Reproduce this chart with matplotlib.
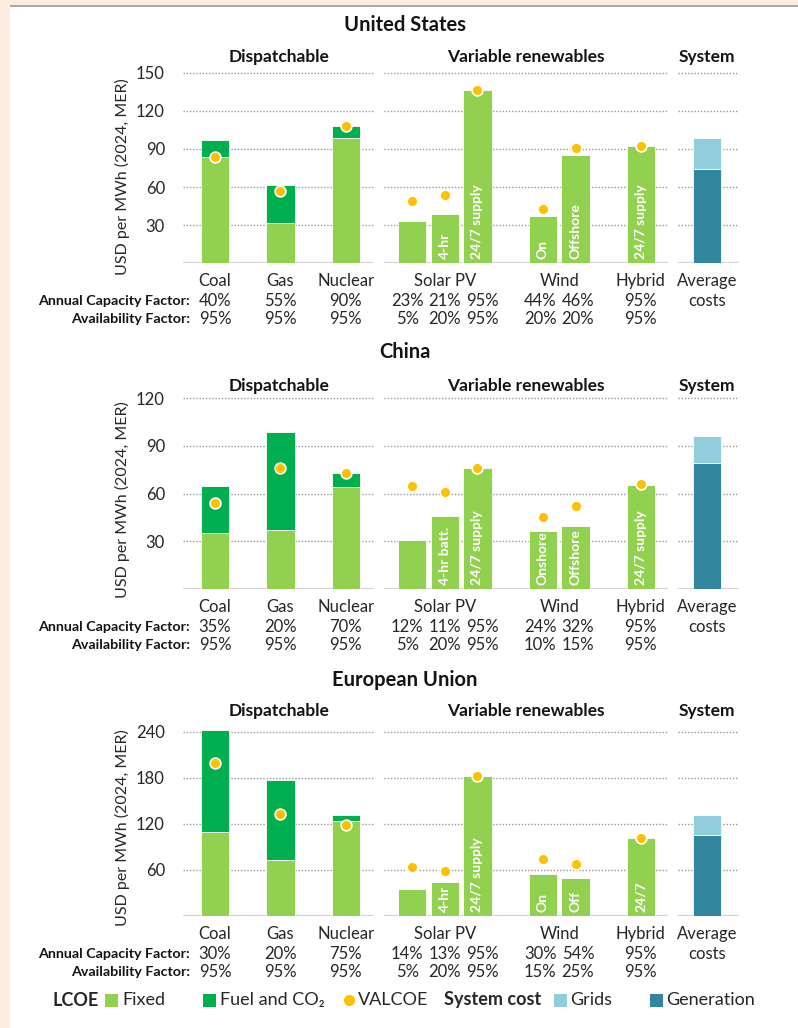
import matplotlib
matplotlib.use("Agg")
import matplotlib.pyplot as plt
import matplotlib.transforms as mtransforms
from matplotlib.patches import Rectangle
from matplotlib.lines import Line2D

plt.rcParams["font.family"] = ["Lato", "DejaVu Sans"]

# ---- data -------------------------------------------------------------
REGIONS = ["United States", "China", "European Union"]
DISP_CATS = ["Coal", "Gas", "Nuclear"]
VRE_GROUPS = ["Solar PV", "Wind", "Hybrid"]

us_disp_fixed = [84, 32, 99]
us_disp_fuel = [13, 30, 9]
us_disp_valcoe = [84, 57, 108]
us_vre = [33, 39, 136, 37.5, 85, 92]
us_vre_valcoe = [49, 54, 136, 43, 91, 92]
us_sys_gen = 74
us_sys_grid = 25
us_vre_labels = ["", "4-hr", "24/7 supply", "On", "Offshore", "24/7 supply"]
us_acf = ["40%", "55%", "90%", "23%", "21%", "95%", "44%", "46%", "95%"]
us_af = ["95%", "95%", "95%", "5%", "20%", "95%", "20%", "20%", "95%"]
us_ticks = [30, 60, 90, 120, 150]

cn_disp_fixed = [35, 37, 64]
cn_disp_fuel = [30, 62, 9]
cn_disp_valcoe = [54, 76, 73]
cn_vre = [31, 46, 76, 36.5, 39.5, 65.5]
cn_vre_valcoe = [65, 61, 76, 45, 52, 66]
cn_sys_gen = 79.5
cn_sys_grid = 16.5
cn_vre_labels = ["", "4-hr batt.", "24/7 supply", "Onshore", "Offshore", "24/7 supply"]
cn_acf = ["35%", "20%", "70%", "12%", "11%", "95%", "24%", "32%", "95%"]
cn_af = ["95%", "95%", "95%", "5%", "20%", "95%", "10%", "15%", "95%"]
cn_ticks = [30, 60, 90, 120]

eu_disp_fixed = [110, 73, 124]
eu_disp_fuel = [133, 104, 8]
eu_disp_valcoe = [199, 133, 119]
eu_vre = [35, 45, 183, 55, 49, 102]
eu_vre_valcoe = [64, 59, 183, 74, 68, 102]
eu_sys_gen = 106
eu_sys_grid = 26
eu_vre_labels = ["", "4-hr", "24/7 supply", "On", "Off", "24/7"]
eu_acf = ["30%", "20%", "75%", "14%", "13%", "95%", "30%", "54%", "95%"]
eu_af = ["95%", "95%", "95%", "5%", "20%", "95%", "15%", "25%", "95%"]
eu_ticks = [60, 120, 180, 240]

# ---- style ------------------------------------------------------------
C_FIXED = "#92D050"
C_FUEL = "#00B050"
C_VALCOE = "#FFC000"
C_GRID = "#92CDDC"
C_GEN = "#31859C"
C_TEXT = "#262626"
C_BOLD = "#141414"
BEIGE = "#FBEDE1"

W, H = 798, 1028
fig = plt.figure(figsize=(W / 100, H / 100), dpi=100)
fig.patch.set_facecolor("white")


def fx(px):
    return px / W


def fy(py):
    return 1 - py / H


# page frame
fig.add_artist(Rectangle((0, 0), fx(10), 1, transform=fig.transFigure,
                         color=BEIGE, lw=0, zorder=-5))
fig.add_artist(Rectangle((0, fy(5)), 1, 5 / H, transform=fig.transFigure,
                         color=BEIGE, lw=0, zorder=-5))
fig.add_artist(Rectangle((fx(10), fy(7)), 1, 2 / H, transform=fig.transFigure,
                         color="#a8a8a8", lw=0, zorder=-4))

# layout per panel: baseline px, top tick px, ylim top, title y, group label y, ylabel y
LAYOUT = [
    (263.3, 72.7, 153, 25, 57, 177),
    (588.7, 398.3, 122, 352, 386, 500),
    (916.0, 732.0, 247, 680, 711, 828),
]
# axes x extents in px and xlims (one unit = one bar slot)
X_DISP = (183, 374, -0.98, 4.86)
X_VRE = (384, 668, -0.86, 7.83)
X_SYS = (678, 739, -0.89, 0.98)
POS_DISP = [0, 2, 4]
POS_VRE = [0, 1, 2, 4, 5, 7]
BW = 0.86

panels = [
    (us_disp_fixed, us_disp_fuel, us_disp_valcoe, us_vre, us_vre_valcoe,
     us_sys_gen, us_sys_grid, us_vre_labels, us_acf, us_af, us_ticks),
    (cn_disp_fixed, cn_disp_fuel, cn_disp_valcoe, cn_vre, cn_vre_valcoe,
     cn_sys_gen, cn_sys_grid, cn_vre_labels, cn_acf, cn_af, cn_ticks),
    (eu_disp_fixed, eu_disp_fuel, eu_disp_valcoe, eu_vre, eu_vre_valcoe,
     eu_sys_gen, eu_sys_grid, eu_vre_labels, eu_acf, eu_af, eu_ticks),
]


def make_ax(xspec, base, top_px, ymax, ticks):
    x0, x1, lo, hi = xspec
    ax = fig.add_axes([fx(x0), fy(base), (x1 - x0) / W, (base - top_px) / H])
    ax.set_xlim(lo, hi)
    ax.set_ylim(0, ymax)
    for s in ax.spines.values():
        s.set_visible(False)
    ax.set_xticks([])
    ax.set_yticks(ticks)
    ax.tick_params(axis="y", length=0, pad=13, labelsize=12, labelcolor=C_TEXT)
    ax.set_yticklabels([])
    for t in ticks:
        ax.axhline(t, color="#9a9a9a", lw=1.0, ls=(0, (1, 1.3)), zorder=0)
    ax.axhline(0, color="#d4d4d4", lw=1.6, zorder=1)
    ax.patch.set_visible(False)
    return ax


def valcoe(ax, xs, ys):
    ax.scatter(xs, ys, s=60, color=C_VALCOE, edgecolor="white", linewidth=1.2,
               zorder=5, clip_on=False)


for (data, lay, region) in zip(panels, LAYOUT, REGIONS):
    (dfix, dfuel, dval, vre, vval, sgen, sgrid, vlabels, acf, af, ticks) = data
    base, tick_px, ymax, title_y, group_y, ylab_y = lay
    scale = (base - tick_px) / ticks[-1]
    top_px = base - ymax * scale

    ax_d = make_ax(X_DISP, base, top_px, ymax, ticks)
    ax_v = make_ax(X_VRE, base, top_px, ymax, ticks)
    ax_s = make_ax(X_SYS, base, top_px, ymax, ticks)
    ax_d.set_yticklabels([str(t) for t in ticks])

    ax_d.bar(POS_DISP, dfix, width=BW, color=C_FIXED, edgecolor="white", lw=0.6, zorder=2)
    ax_d.bar(POS_DISP, dfuel, bottom=dfix, width=BW, color=C_FUEL,
             edgecolor="white", lw=0.6, zorder=2)
    valcoe(ax_d, POS_DISP, dval)

    bars = ax_v.bar(POS_VRE, vre, width=BW, color=C_FIXED, edgecolor="white",
                    lw=0.6, zorder=2)
    valcoe(ax_v, POS_VRE, vval)
    tr = mtransforms.offset_copy(ax_v.transData, fig=fig, y=4, units="dots")
    for b, p, lab in zip(bars, POS_VRE, vlabels):
        if lab:
            t = ax_v.text(p, 0, lab, rotation=90, ha="center", va="bottom",
                          color="white", fontsize=10, fontweight="bold",
                          transform=tr, zorder=4)
            t.set_clip_path(b)

    ax_s.bar([0], [sgen], width=BW, color=C_GEN, edgecolor="white", lw=0.6, zorder=2)
    ax_s.bar([0], [sgrid], bottom=[sgen], width=BW, color=C_GRID,
             edgecolor="white", lw=0.6, zorder=2)

    # titles and group labels
    fig.text(fx(405), fy(title_y), region, ha="center", va="center",
             fontsize=14.5, fontweight="bold", color=C_BOLD)
    for xc, lab in zip([279, 526, 706.5], ["Dispatchable", "Variable renewables", "System"]):
        fig.text(fx(xc), fy(group_y), lab, ha="center", va="center",
                 fontsize=12.5, fontweight="bold", color=C_BOLD)
    fig.text(fx(122), fy(ylab_y), "USD per MWh (2024, MER)", rotation=90,
             ha="center", va="center", fontsize=11.5, color=C_TEXT)

    # labels under the axes
    tb_d = mtransforms.blended_transform_factory(ax_d.transData, fig.transFigure)
    tb_v = mtransforms.blended_transform_factory(ax_v.transData, fig.transFigure)
    tb_s = mtransforms.blended_transform_factory(ax_s.transData, fig.transFigure)
    y_cat, y_r1, y_r2 = fy(base + 18), fy(base + 38), fy(base + 56)
    kw = dict(ha="center", va="center", fontsize=12, color=C_TEXT)
    for p, lab in zip(POS_DISP, DISP_CATS):
        ax_d.text(p, y_cat, lab, transform=tb_d, **kw)
    for p, lab in zip([1, 4.5, 7], VRE_GROUPS):
        ax_v.text(p, y_cat, lab, transform=tb_v, **kw)
    ax_s.text(0, y_cat, "Average", transform=tb_s, **kw)
    ax_s.text(0, y_r1, "costs", transform=tb_s, **kw)

    for i, p in enumerate(POS_DISP):
        ax_d.text(p, y_r1, acf[i], transform=tb_d, **kw)
        ax_d.text(p, y_r2, af[i], transform=tb_d, **kw)
    centers = [1, 1, 1, 4.5, 4.5, 7]
    for i, (p, c) in enumerate(zip(POS_VRE, centers)):
        xt = c + (p - c) * 1.15
        ax_v.text(xt, y_r1, acf[3 + i], transform=tb_v, **kw)
        ax_v.text(xt, y_r2, af[3 + i], transform=tb_v, **kw)

    fig.text(fx(190), y_r1, "Annual Capacity Factor:", ha="right", va="center",
             fontsize=10.3, fontweight="bold", color=C_BOLD)
    fig.text(fx(190), y_r2, "Availability Factor:", ha="right", va="center",
             fontsize=10.3, fontweight="bold", color=C_BOLD)

# ---- legend -------------------------------------------------------------
LY = 1000
lk = dict(va="center", fontsize=13, color=C_TEXT, transform=fig.transFigure)


def square(x0, color):
    fig.add_artist(Rectangle((fx(x0), fy(LY + 6.5)), 13 / W, 13 / H,
                             transform=fig.transFigure, color=color, lw=0))


fig.text(fx(53), fy(LY), "LCOE", fontweight="bold", **lk)
square(105, C_FIXED)
fig.text(fx(122), fy(LY), "Fixed", **lk)
square(203, C_FUEL)
fig.text(fx(220), fy(LY), "Fuel and CO₂", **lk)
fig.add_artist(Line2D([fx(349)], [fy(LY)], transform=fig.transFigure, marker="o",
                      markersize=7, color=C_VALCOE, markeredgecolor=C_VALCOE, lw=0))
fig.text(fx(358), fy(LY), "VALCOE", **lk)
fig.text(fx(444), fy(LY), "System cost", fontweight="bold", **lk)
square(554, C_GRID)
fig.text(fx(570), fy(LY), "Grids", **lk)
square(650, C_GEN)
fig.text(fx(666), fy(LY), "Generation", **lk)

fig.savefig("out.png", dpi=100)
